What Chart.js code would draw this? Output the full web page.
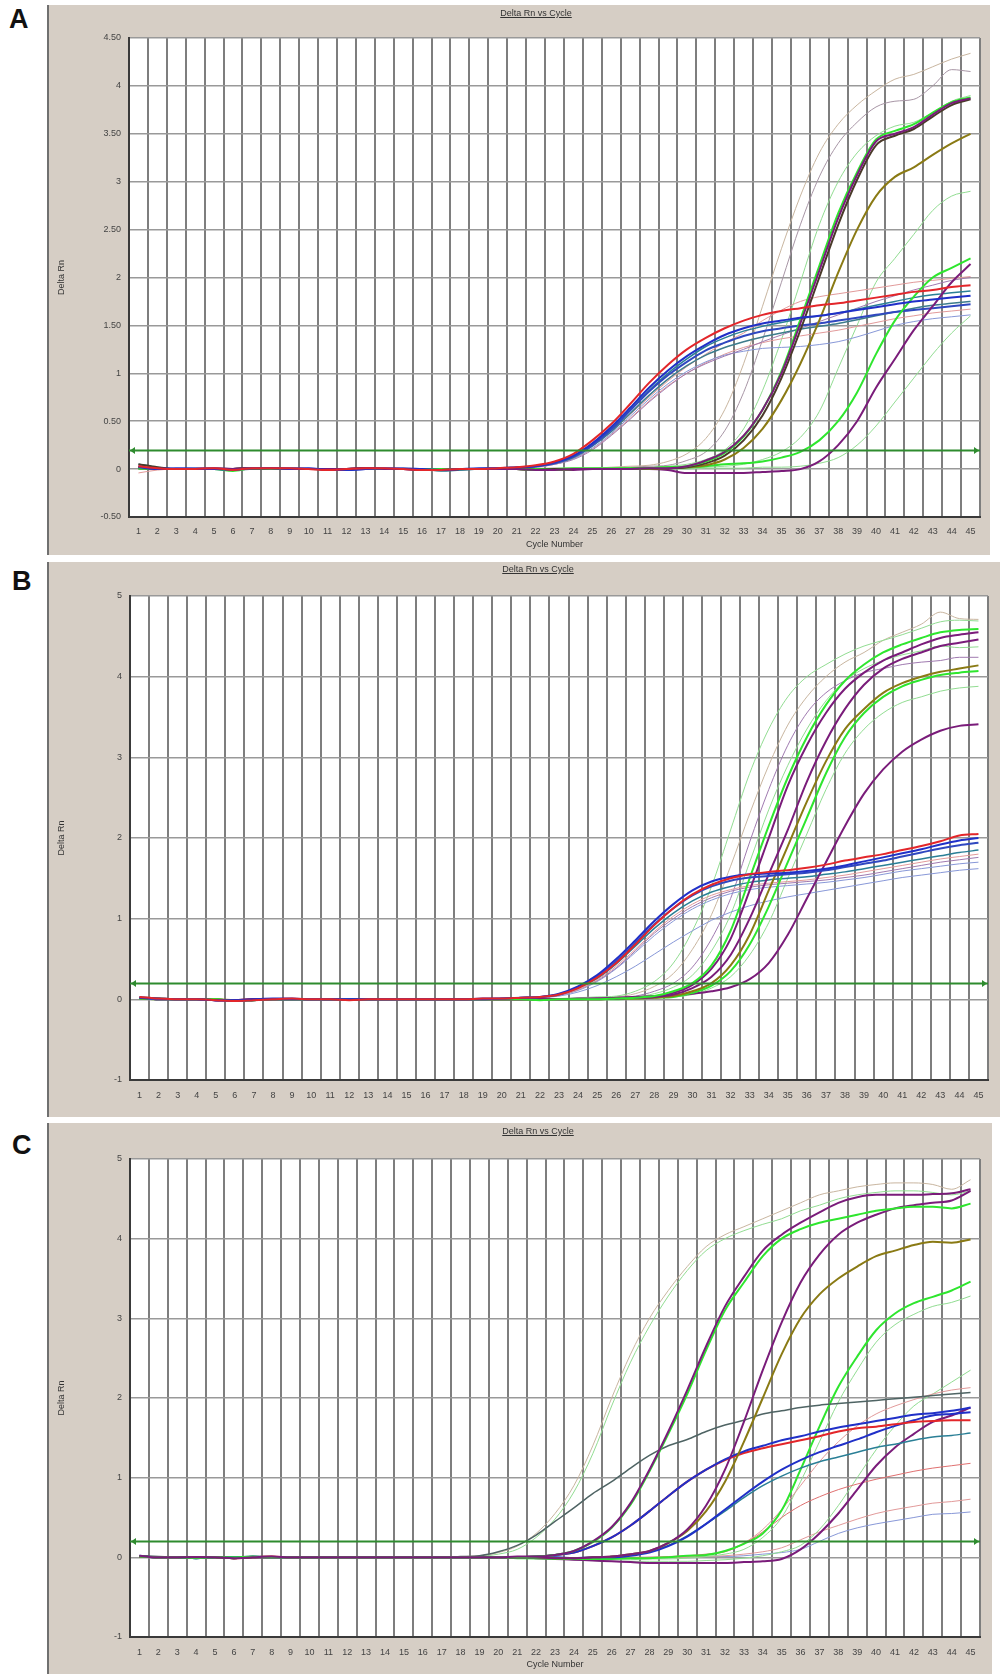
<!DOCTYPE html>
<html>
<head>
<meta charset="utf-8">
<script src="https://cdn.jsdelivr.net/npm/chart.js@4.4.1/dist/chart.umd.min.js"></script>
<style>
  body { margin: 0; background: #fff; width: 1002px; height: 1674px; position: relative; overflow: hidden; font-family: Arial, "Liberation Sans", sans-serif; }
  .frame { position: absolute; background: #d6cec5; border-left: 2px solid #707070; }
  .frame canvas { position: absolute; left: 0; top: 0; }
  .letter { position: absolute; font: bold 27px Arial, "Liberation Sans", sans-serif; line-height: 27px; color: #111; }
  .ttl { position: absolute; font: 9px Arial, "Liberation Sans", sans-serif; line-height: 10px; color: #333; text-decoration: underline; white-space: nowrap; transform: translateX(-50%); }
</style>
</head>
<body>

<div class="letter" style="left:9px;top:6px">A</div>
<div class="letter" style="left:12px;top:568px">B</div>
<div class="letter" style="left:12px;top:1132px">C</div>

<div class="frame" style="left:47px;top:5px;width:941px;height:550px"><canvas id="chartA" width="941" height="550"></canvas></div>
<div class="frame" style="left:47px;top:562px;width:951px;height:555px"><canvas id="chartB" width="951" height="555"></canvas></div>
<div class="frame" style="left:47px;top:1123px;width:943px;height:551px"><canvas id="chartC" width="943" height="551"></canvas></div>

<div class="ttl" style="left:536px;top:8px">Delta Rn vs Cycle</div>
<div class="ttl" style="left:538px;top:564px">Delta Rn vs Cycle</div>
<div class="ttl" style="left:538px;top:1126px">Delta Rn vs Cycle</div>

<script>
/* categories + axis ticks */
const cycles = ['1','2','3','4','5','6','7','8','9','10','11','12','13','14','15','16','17','18','19','20','21','22','23','24','25','26','27','28','29','30','31','32','33','34','35','36','37','38','39','40','41','42','43','44','45'];
const yTicksA = [-0.5, 0, 0.5, 1, 1.5, 2, 2.5, 3, 3.5, 4, 4.5];
const yTickLabelsA = ['-0.50', '0', '0.50', '1', '1.50', '2', '2.50', '3', '3.50', '4', '4.50'];
const yTicksBC = [-1, 0, 1, 2, 3, 4, 5];
const yTickLabelsBC = ['-1', '0', '1', '2', '3', '4', '5'];
const threshold = 0.2;

/* Panel A */
const aRed = [0.03,0.01,0,0,0.01,-0.01,0.01,0.01,0.01,0,-0.01,0,0.01,0.01,0,
  -0.01,-0.01,0,0,0.01,0.02,0.04,0.08,0.16,0.3,0.47,0.68,0.9,1.09,1.25,
  1.37,1.47,1.55,1.61,1.65,1.68,1.71,1.73,1.76,1.79,1.82,1.85,1.87,1.9,1.92];
const aBlue = [0.02,0,0.01,0,0,-0.01,0.01,0.01,0,0.01,-0.01,-0.01,0,0.01,0,
  0,-0.01,0,0.01,0.01,0.02,0.03,0.07,0.14,0.27,0.44,0.64,0.85,1.03,1.18,
  1.3,1.4,1.47,1.52,1.55,1.58,1.6,1.63,1.66,1.69,1.72,1.75,1.77,1.79,1.81];
const aBlue2 = [0.01,0,0,0.01,0,0,0.01,0,0.01,0,0,-0.01,0,0,0.01,
  0,-0.01,0,0,0.01,0.01,0.03,0.06,0.13,0.25,0.41,0.61,0.81,0.98,1.12,
  1.24,1.32,1.39,1.44,1.47,1.5,1.52,1.55,1.58,1.61,1.64,1.66,1.68,1.7,1.72];
const aTeal = [0.05,0.02,0,0,0.01,0,0.01,0.01,0,0,-0.01,0,0.01,0,0,
  0,-0.02,-0.01,0,0.01,0.02,0.03,0.06,0.13,0.26,0.42,0.62,0.82,1,1.15,
  1.28,1.37,1.44,1.49,1.53,1.57,1.6,1.63,1.67,1.71,1.75,1.79,1.82,1.84,1.86];
const aTeal2 = [0.02,0.01,0,0,0,-0.01,0,0.01,0.01,0,0,0,0,0.01,0,
  -0.01,-0.01,-0.01,0,0,0.01,0.03,0.06,0.12,0.24,0.39,0.58,0.77,0.94,1.08,
  1.19,1.27,1.33,1.38,1.42,1.46,1.49,1.52,1.56,1.6,1.64,1.68,1.71,1.73,1.75];
const aPink = [-0.04,-0.01,0,0,0,-0.01,0,0.01,0,0,0,0,0,0,0,
  -0.01,-0.02,-0.01,0,0,0.01,0.03,0.06,0.12,0.24,0.39,0.57,0.75,0.92,1.07,
  1.2,1.32,1.42,1.55,1.66,1.75,1.8,1.83,1.86,1.89,1.92,1.95,1.97,1.99,2.01];
const aMauve = [0.01,0,0,0,0.01,0,0,0,0.01,0,0,0,0,0,0,
  0,-0.01,0,0,0,0.01,0.02,0.05,0.1,0.2,0.35,0.52,0.7,0.86,1,
  1.1,1.18,1.25,1.33,1.4,1.47,1.54,1.61,1.68,1.75,1.81,1.87,1.92,1.97,2];
const aLtBlue = [0.02,0,0,0,0,-0.01,0,0,0,0.01,0,-0.01,0,0,0,
  0,-0.01,0,0,0,0.01,0.02,0.05,0.11,0.22,0.37,0.55,0.73,0.89,1.02,
  1.12,1.19,1.23,1.26,1.27,1.28,1.3,1.33,1.38,1.44,1.5,1.54,1.57,1.59,1.61];
const aPink2 = [0.01,0.01,0,0,0,0,0.01,0,0,0,-0.01,0,0,0,0,
  0,-0.01,-0.01,0,0,0.01,0.02,0.05,0.11,0.21,0.36,0.53,0.71,0.87,1,
  1.11,1.2,1.27,1.32,1.36,1.39,1.42,1.45,1.49,1.53,1.57,1.6,1.63,1.65,1.67];
const aTan = [0.02,0,0,0,0,-0.01,0,0.01,0,0,0,0,0,0,0,
  0,-0.01,0,0,0,0,0.01,0.01,0.01,0.01,0.02,0.03,0.04,0.08,0.16,
  0.32,0.62,1.1,1.7,2.3,2.85,3.3,3.6,3.8,3.95,4.07,4.12,4.2,4.28,4.34];
const aMauveHi = [0.01,0,0,0,0,0,0,0,0.01,0,0,0,0,0,0,
  -0.01,-0.01,0,0,0,0,0,0.01,0,0.01,0.01,0.02,0.03,0.04,0.09,
  0.18,0.4,0.8,1.35,1.95,2.55,3.05,3.4,3.62,3.78,3.84,3.86,4,4.17,4.15];
const aLtGreen1 = [0.01,0,0,0,0,-0.01,0.01,0,0,0,0,0,0,0,0,
  0,-0.01,0,0,0,0,0,0,0,0,0.01,0.01,0.02,0.03,0.05,
  0.1,0.2,0.42,0.82,1.35,1.95,2.55,3,3.3,3.48,3.58,3.62,3.72,3.84,3.9];
const aPurple = [0.03,0,0,0,0.01,0,0.01,0.01,0,0,0,0,0.01,0,0,
  -0.01,-0.01,0,0,0,0,-0.01,-0.01,0,0,0,0,0.01,0.01,0.03,
  0.09,0.18,0.35,0.62,1,1.52,2.07,2.62,3.07,3.42,3.5,3.57,3.7,3.82,3.87];
const aGreen = [0.01,0,0,0,0,-0.02,0.01,0,0,0,0,0,0,0,0,
  0,0,0,0,0,0,-0.01,-0.01,0,0,0,0.01,0.01,0.02,0.03,
  0.08,0.17,0.34,0.62,1.02,1.56,2.12,2.67,3.1,3.44,3.53,3.6,3.72,3.83,3.88];
const aBrown = [0.05,0.02,0,0,0,0,0.01,0,0,0,0,0,0.01,0,0,
  0,-0.01,0,0,0,0,-0.01,0,0,0,0,0,0.01,0.01,0.02,
  0.06,0.14,0.3,0.56,0.95,1.45,2,2.55,3.02,3.38,3.48,3.55,3.68,3.8,3.86];
const aOlive = [0.01,0,0,0,0,0,0.01,0,0,0,0,0,0,0,0,
  0,-0.01,0,0,0,0,-0.01,-0.01,0,0,0,0,0,0.01,0.02,
  0.04,0.1,0.22,0.42,0.72,1.1,1.55,2.05,2.5,2.85,3.05,3.15,3.28,3.4,3.5];
const aLtGreen2 = [0,0,0,0,0,-0.01,0,0,0,0,0,0,0,0,0,
  0,0,0,0,0,0,0,0,0,0,0,0,0,0.01,0.01,
  0.02,0.03,0.05,0.1,0.18,0.33,0.6,1.05,1.5,1.95,2.2,2.45,2.7,2.85,2.9];
const aGreenLate = [0.01,0,0,0,0,-0.01,0.01,0,0,0,0,0,0,0,0,
  0,0,0,0,0,0,0,0,0.01,0.01,0.01,0.01,0.01,0.02,0.02,
  0.03,0.05,0.06,0.08,0.12,0.18,0.3,0.5,0.8,1.2,1.55,1.8,2,2.1,2.2];
const aPurpleLate = [0.02,0,0,0,0,0,0.01,0,0,0,0,0,0.01,0,0,
  -0.01,-0.01,0,0,0,0,-0.01,-0.01,-0.01,0,0,0,0,-0.01,-0.04,
  -0.04,-0.04,-0.04,-0.03,-0.02,0,0.08,0.25,0.5,0.85,1.15,1.45,1.7,1.95,2.14];
const aLtGreen3 = [0,0,0,0,0,-0.01,0,0,0,0,0,0,0,0,0,
  0,0,0,0,0,0,0,0,0,0,0,0,0,0,0,
  0.01,0.01,0.01,0.02,0.02,0.03,0.06,0.12,0.25,0.45,0.7,0.95,1.2,1.42,1.6];

/* Panel B */
const bRed = [0.03,0.01,0,0,-0.01,-0.02,-0.01,0,0.01,0,0,-0.01,0,0,0,
  0,0,0,0.01,0.01,0.02,0.03,0.06,0.14,0.27,0.45,0.68,0.92,1.13,1.3,
  1.42,1.5,1.55,1.58,1.6,1.63,1.67,1.72,1.76,1.8,1.85,1.9,1.96,2.03,2.05];
const bBlue = [0.02,0.01,0,0,-0.01,-0.01,0,0.01,0.01,0,0,0,0,0,0,
  0,0,0,0.01,0.01,0.02,0.03,0.07,0.16,0.3,0.5,0.73,0.97,1.18,1.35,
  1.46,1.52,1.55,1.56,1.57,1.59,1.62,1.66,1.71,1.76,1.81,1.86,1.92,1.97,2];
const bBlue2 = [0.02,0,0,0,-0.01,-0.02,-0.01,0,0,0,0,0,0,0,0,
  0,0,0,0,0.01,0.02,0.03,0.06,0.15,0.28,0.47,0.7,0.93,1.13,1.29,
  1.4,1.47,1.51,1.53,1.55,1.57,1.6,1.64,1.68,1.72,1.77,1.82,1.87,1.91,1.94];
const bTeal = [0.03,0.01,0,0,0,-0.01,-0.01,0,0,0,0,-0.01,0,0,0,
  0,0,0,0,0.01,0.02,0.03,0.06,0.14,0.26,0.44,0.66,0.88,1.07,1.22,
  1.33,1.4,1.45,1.48,1.5,1.52,1.55,1.58,1.62,1.66,1.7,1.74,1.78,1.82,1.85];
const bPink = [0.02,0,0,0,0,-0.01,0,0,0,0,0,0,0,0,0,
  0,0,0,0,0.01,0.01,0.02,0.05,0.12,0.24,0.41,0.62,0.84,1.03,1.18,
  1.29,1.36,1.41,1.44,1.46,1.48,1.51,1.54,1.58,1.62,1.66,1.7,1.74,1.77,1.8];
const bPurpleThin = [0.01,0,0,0,-0.01,-0.01,0,0,0,0,0,0,0,0,0,
  0,0,0,0,0.01,0.01,0.02,0.05,0.12,0.23,0.39,0.6,0.82,1,1.15,
  1.26,1.34,1.39,1.42,1.44,1.46,1.48,1.51,1.54,1.58,1.62,1.66,1.7,1.73,1.76];
const bGrayBlue = [0.02,0,0,0,0,-0.01,0,0,0.01,0,0,0,0,0,0,
  0,0,0,0,0,0.01,0.02,0.05,0.11,0.22,0.38,0.58,0.79,0.97,1.12,
  1.23,1.31,1.36,1.39,1.41,1.43,1.45,1.48,1.51,1.55,1.59,1.62,1.65,1.68,1.7];
const bLtBlue = [0.01,0,0,0,0,-0.01,0,0,0,0,0,0,0,0,0,
  0,0,0,0,0,0.01,0.02,0.04,0.09,0.17,0.28,0.41,0.56,0.71,0.85,
  0.98,1.08,1.16,1.22,1.27,1.31,1.35,1.39,1.43,1.47,1.51,1.54,1.57,1.6,1.62];
const bLtGreen1 = [0.02,0,0,0,-0.01,-0.01,0,0,0,0,0,0,0,0,0,
  0,0,0,0,0,0.01,0.01,0.01,0.02,0.03,0.04,0.1,0.22,0.45,0.85,
  1.4,2.1,2.8,3.35,3.75,4,4.15,4.28,4.38,4.45,4.52,4.6,4.68,4.7,4.69];
const bTan = [0.01,0,0,0,0,-0.01,0,0,0,0,0,0,0,0,0,
  0,0,0,0,0,0,0.01,0.01,0.01,0.02,0.03,0.07,0.16,0.32,0.62,
  1.05,1.65,2.3,2.9,3.4,3.75,4,4.18,4.3,4.45,4.55,4.65,4.8,4.72,4.71];
const bLtPurple = [0.01,0,0,0,-0.01,-0.01,0,0,0,0,0,0,0,0,0,
  0,0,0,0,0,0,0,0.01,0.01,0.01,0.02,0.04,0.1,0.2,0.4,
  0.75,1.25,1.95,2.6,3.15,3.55,3.8,3.95,4.05,4.1,4.15,4.18,4.2,4.24,4.24];
const bLtGreen2 = [0.02,0,0,0,0,-0.01,0,0,0,0,0,0,0,0,0,
  0,0,0,0,0,0,0,0,0.01,0.01,0.02,0.03,0.07,0.15,0.3,
  0.6,1.05,1.7,2.35,2.9,3.35,3.7,3.95,4.1,4.2,4.27,4.32,4.38,4.36,4.37];
const bGreen1 = [0.01,0.01,0,0,0,-0.02,-0.01,0,0,0,0,0,0,0,0,
  0,0,0,0,0,0,-0.01,0,0,0,0.01,0.02,0.04,0.1,0.2,
  0.42,0.85,1.5,2.15,2.75,3.25,3.65,3.95,4.15,4.3,4.4,4.48,4.55,4.58,4.59];
const bPurple1 = [0.02,0,0,0,-0.01,-0.01,0,0,0,0,0,0,0,0,0,
  0,0,0,0,0,0,0,0,0,0.01,0.01,0.02,0.03,0.08,0.18,
  0.38,0.75,1.35,2,2.65,3.15,3.55,3.85,4.05,4.2,4.3,4.4,4.48,4.52,4.55];
const bPurple2 = [0.02,0.01,0,0,-0.01,-0.01,0,0,0,0,0,0,0,0,0,
  0,0,0,0,0,0,0,0,0,0,0.01,0.02,0.03,0.06,0.14,
  0.28,0.55,1,1.55,2.1,2.7,3.2,3.6,3.9,4.1,4.22,4.3,4.38,4.42,4.46];
const bOlive = [0.01,0,0,0,0,-0.01,0,0,0,0,0,0,0,0,0,
  0,0,0,0,0,0,0,0,0,0,0.01,0.01,0.02,0.04,0.1,
  0.2,0.42,0.8,1.35,1.9,2.45,2.95,3.35,3.6,3.8,3.92,4,4.06,4.1,4.14];
const bGreen2 = [0.01,0,0,0,0,-0.02,-0.01,0,0,0,0,0,0,0,0,
  0,0,0,0,0,0,0,0,0,0,0,0.01,0.02,0.03,0.08,
  0.17,0.35,0.68,1.15,1.7,2.25,2.8,3.25,3.55,3.75,3.88,3.96,4.02,4.05,4.07];
const bLtGreen3 = [0.01,0,0,0,0,-0.01,0,0,0,0,0,0,0,0,0,
  0,0,0,0,0,0,0,0,0,0,0,0.01,0.02,0.03,0.06,
  0.14,0.28,0.55,0.95,1.5,2.05,2.6,3.05,3.35,3.55,3.68,3.75,3.82,3.86,3.88];
const bPurple3 = [0.02,0,0,0,-0.01,-0.01,0,0,0,0,0,0,0,0,0,
  0,0,0,0,0,0,0,0,0.01,0.01,0.02,0.03,0.04,0.05,0.07,
  0.1,0.15,0.25,0.45,0.8,1.25,1.7,2.15,2.55,2.85,3.07,3.22,3.33,3.39,3.41];

/* Panel C */
const cTan = [0.02,0,0,-0.01,0,0,0.01,0.01,0,0,0,0,0,0,0,
  0,0,0.01,0.02,0.06,0.14,0.3,0.55,0.9,1.4,2,2.55,3,3.35,3.65,
  3.9,4.05,4.15,4.25,4.35,4.45,4.55,4.6,4.65,4.68,4.7,4.7,4.68,4.62,4.74];
const cLtGreen = [0.01,0,0,-0.01,0,0,0.01,0,0,0,0,0,0,0,0,
  0,0,0,0.01,0.04,0.1,0.25,0.48,0.82,1.3,1.9,2.45,2.9,3.28,3.6,
  3.85,4,4.1,4.18,4.25,4.35,4.42,4.5,4.55,4.58,4.6,4.6,4.58,4.55,4.6];
const cSlate = [0.02,0.01,0,-0.01,0,0,0.01,0.01,0,0,0,0,0,0,0,
  0,0,0.01,0.02,0.07,0.15,0.28,0.45,0.62,0.8,0.95,1.12,1.28,1.4,1.48,
  1.58,1.66,1.72,1.8,1.84,1.88,1.91,1.93,1.95,1.97,1.99,2.01,2.03,2.05,2.07];
const cPinkHi = [0.01,0,0,0,0,-0.01,0,0,0,0,0,0,0,0,0,
  0,0,0,0,0,0,0,-0.01,-0.01,-0.01,-0.01,-0.01,0,0,0.01,
  0.03,0.08,0.18,0.35,0.6,0.9,1.2,1.45,1.65,1.8,1.9,1.98,2.05,2.1,2.13];
const cPurple1 = [0.02,0,0,0,0,-0.01,0,0.01,0,0,0,0,0,0,0,
  0,0,0,0,0,0.01,0.01,0.03,0.08,0.2,0.38,0.68,1.1,1.58,2.1,
  2.65,3.15,3.52,3.85,4.05,4.2,4.33,4.45,4.52,4.55,4.55,4.55,4.56,4.57,4.62];
const cGreen1 = [0.01,0,0,-0.01,0,0,0.01,0,0,0,0,0,0,0,0,
  0,0,0,0,0,0,0.01,0.03,0.08,0.19,0.37,0.66,1.08,1.55,2.05,
  2.6,3.1,3.45,3.78,4,4.12,4.2,4.25,4.3,4.35,4.38,4.4,4.4,4.38,4.44];
const cPurple2 = [0.01,0,0,0,0,-0.01,0,0,0,0,0,0,0,0,0,
  0,0,0,0,0,0,0,-0.01,-0.01,0,0.01,0.04,0.08,0.18,0.35,
  0.65,1.1,1.7,2.35,2.95,3.45,3.8,4.05,4.2,4.3,4.38,4.42,4.45,4.48,4.6];
const cOlive = [0.01,0,0,0,0,-0.01,0,0,0,0,0,0,0,0,0,
  0,0,0,0,0,0,0,-0.01,-0.01,0,0.01,0.04,0.08,0.18,0.33,
  0.58,0.95,1.45,2,2.55,3,3.3,3.5,3.65,3.78,3.85,3.92,3.96,3.95,3.99];
const cBlue1 = [0.02,0,0,-0.01,0,0,0.01,0,0,0,0,0,0,0,0,
  0,0,0,0,0,0,0.01,0.03,0.06,0.14,0.25,0.4,0.58,0.77,0.95,
  1.1,1.23,1.33,1.4,1.47,1.52,1.58,1.63,1.67,1.71,1.75,1.79,1.81,1.84,1.88];
const cRed1 = [0.01,0,0,0,0,-0.01,0,0.01,0,0,0,0,0,0,0,
  0,0,0,0,0,0,0.01,0.03,0.06,0.14,0.25,0.4,0.58,0.77,0.95,
  1.1,1.22,1.31,1.37,1.42,1.47,1.52,1.58,1.62,1.64,1.67,1.7,1.71,1.72,1.72];
const cBlue2 = [0.01,0,0,-0.01,0,0,0,0,0,0,0,0,0,0,0,
  0,0,0,0,0,0,0,0,-0.01,0,0,0.02,0.06,0.14,0.26,
  0.42,0.6,0.78,0.95,1.1,1.22,1.32,1.4,1.48,1.57,1.65,1.72,1.78,1.8,1.82];
const cTeal2 = [0.01,0,0,0,0,-0.01,0,0,0,0,0,0,0,0,0,
  0,0,0,0,0,0,0,0,-0.01,0,0.01,0.03,0.07,0.15,0.27,
  0.42,0.58,0.75,0.9,1.02,1.12,1.2,1.26,1.32,1.38,1.42,1.47,1.51,1.53,1.56];
const cGreen2 = [0.01,0,0,0,0,-0.01,0,0,0,0,0,0,0,0,0,
  0,0,0,0,0,-0.01,-0.01,-0.02,-0.02,-0.02,-0.02,-0.01,-0.01,0,0.02,
  0.03,0.08,0.17,0.3,0.59,1.1,1.64,2.14,2.52,2.85,3.06,3.19,3.27,3.35,3.46];
const cLtGreen2 = [0,0,0,0,0,-0.01,0,0,0,0,0,0,0,0,0,
  0,0,0,0,0,-0.01,-0.02,-0.02,-0.03,-0.03,-0.03,-0.03,-0.02,-0.02,-0.01,
  0.01,0.04,0.1,0.25,0.5,0.95,1.45,1.95,2.35,2.7,2.92,3.05,3.15,3.2,3.28];
const cRed2 = [0.01,0,0,0,0,-0.01,0,0,0,0,0,0,0,0,0,
  0,0,0,0,0,0,0,-0.01,-0.01,-0.01,0,0,0,0.01,0.02,
  0.04,0.07,0.17,0.32,0.5,0.65,0.76,0.85,0.92,0.98,1.03,1.08,1.12,1.15,1.18];
const cPurpleLate = [0.01,0,0,0,0,-0.01,0,0,0,0,0,0,0,0,0,
  0,0,0,0,0,0,-0.01,-0.02,-0.03,-0.04,-0.05,-0.06,-0.07,-0.07,-0.07,
  -0.07,-0.07,-0.06,-0.05,-0.02,0.1,0.3,0.55,0.85,1.15,1.38,1.55,1.7,1.78,1.88];
const cLtGreen3 = [0,0,0,0,0,-0.01,0,0,0,0,0,0,0,0,0,
  0,0,0,0,0,0,-0.01,-0.02,-0.03,-0.04,-0.05,-0.05,-0.05,-0.05,-0.05,
  -0.04,-0.03,-0.01,0.02,0.07,0.15,0.35,0.65,1,1.35,1.65,1.9,2.05,2.2,2.35];
const cPink2 = [0.01,0,0,0,0,-0.01,0,0,0,0,0,0,0,0,0,
  0,0,0,0,0,0,0,-0.01,-0.01,-0.01,-0.01,-0.01,0,0,0,
  0.01,0.02,0.04,0.07,0.12,0.22,0.32,0.4,0.48,0.55,0.6,0.64,0.68,0.7,0.73];
const cLtBlue = [0.01,0,0,0,0,-0.01,0,0,0,0,0,0,0,0,0,
  0,0,0,0,0,0,0,-0.01,-0.01,-0.01,-0.01,0,0,0,0,
  0.01,0.01,0.02,0.04,0.06,0.1,0.2,0.3,0.37,0.42,0.46,0.5,0.54,0.55,0.57];

/* colours */
const RED = '#e3262a', BLUE = '#2030c8', BLUE2 = '#3048c0', TEAL = '#2a7f96', TEAL2 = '#3d7c8c';
const PINK = '#e29a9a', MAUVE = '#a07ab0', LTBLUE = '#8898d8', TAN = '#c9b6a0', MAUVEHI = '#a896a6';
const LTGREEN = '#92dd92', PURPLE = '#7a1c7a', GREEN = '#2ee62e', BROWN = '#4a3a2a', OLIVE = '#8a7a14', SLATE = '#4f6464';
const FONT = 'Arial, "Liberation Sans", sans-serif';

// first in list = drawn on top
const seriesA = [
  [aRed, RED, 2], [aBlue, BLUE, 2], [aPurple, PURPLE, 2], [aGreen, GREEN, 2], [aBrown, BROWN, 2],
  [aOlive, OLIVE, 2], [aGreenLate, GREEN, 2], [aPurpleLate, PURPLE, 2], [aBlue2, BLUE2, 2],
  [aTeal, TEAL, 1.5], [aTeal2, TEAL2, 1.5], [aPink, PINK, 1], [aMauve, MAUVE, 1], [aLtBlue, LTBLUE, 1],
  [aPink2, PINK, 1], [aTan, TAN, 1], [aMauveHi, MAUVEHI, 1], [aLtGreen1, LTGREEN, 1],
  [aLtGreen2, LTGREEN, 1], [aLtGreen3, LTGREEN, 1]
];
const seriesB = [
  [bRed, RED, 2], [bBlue, BLUE, 2], [bBlue2, BLUE2, 2], [bGreen1, GREEN, 2], [bPurple1, PURPLE, 2],
  [bPurple2, PURPLE, 2], [bOlive, OLIVE, 2], [bGreen2, GREEN, 2], [bPurple3, PURPLE, 2],
  [bTeal, TEAL, 1.5], [bPink, PINK, 1], [bPurpleThin, MAUVE, 1], [bGrayBlue, LTBLUE, 1], [bLtBlue, LTBLUE, 1],
  [bLtGreen1, LTGREEN, 1], [bTan, TAN, 1], [bLtPurple, MAUVE, 1], [bLtGreen2, LTGREEN, 1], [bLtGreen3, LTGREEN, 1]
];
const seriesC = [
  [cPurple1, PURPLE, 2], [cGreen1, GREEN, 2], [cPurple2, PURPLE, 2], [cOlive, OLIVE, 2],
  [cBlue1, BLUE, 2], [cRed1, RED, 2], [cBlue2, BLUE, 2], [cTeal2, TEAL, 1.5], [cSlate, SLATE, 1.5],
  [cGreen2, GREEN, 2], [cPurpleLate, PURPLE, 2], [cRed2, '#e07070', 1], [cPinkHi, PINK, 1],
  [cTan, TAN, 1], [cLtGreen, LTGREEN, 1], [cLtGreen2, LTGREEN, 1], [cLtGreen3, LTGREEN, 1],
  [cPink2, PINK, 1], [cLtBlue, LTBLUE, 1]
];

const plotBg = {
  id: 'plotBg',
  beforeDraw(chart) {
    const { ctx, chartArea: a } = chart;
    ctx.save();
    ctx.fillStyle = '#fff';
    ctx.fillRect(a.left, a.top, a.right - a.left, a.bottom - a.top);
    ctx.restore();
  }
};

const thresholdLine = {
  id: 'thresholdLine',
  afterDatasetsDraw(chart, args, opts) {
    const { ctx, chartArea: a, scales: { y } } = chart;
    const py = Math.round(y.getPixelForValue(opts.value)) + 0.5;
    ctx.save();
    ctx.strokeStyle = opts.color;
    ctx.fillStyle = opts.color;
    ctx.lineWidth = 2;
    ctx.beginPath();
    ctx.moveTo(a.left, py);
    ctx.lineTo(a.right, py);
    ctx.stroke();
    // little arrow heads at both ends
    ctx.beginPath();
    ctx.moveTo(a.left + 1, py); ctx.lineTo(a.left + 6, py - 3.5); ctx.lineTo(a.left + 6, py + 3.5);
    ctx.fill();
    ctx.beginPath();
    ctx.moveTo(a.right - 1, py); ctx.lineTo(a.right - 6, py - 3.5); ctx.lineTo(a.right - 6, py + 3.5);
    ctx.fill();
    ctx.restore();
  }
};

function makePanel(id, series, o) {
  new Chart(document.getElementById(id), {
    type: 'line',
    data: {
      labels: cycles,
      datasets: series.map(s => ({
        data: s[0],
        borderColor: s[1],
        borderWidth: s[2],
        pointRadius: 0,
        fill: false,
        cubicInterpolationMode: 'monotone'
      }))
    },
    options: {
      responsive: false,
      animation: false,
      devicePixelRatio: 1,
      layout: { padding: { left: 0, top: o.top, right: o.right, bottom: 0 } },
      plugins: {
        legend: { display: false },
        tooltip: { enabled: false },
        thresholdLine: { value: threshold, color: '#2e8b2e' }
      },
      scales: {
        x: {
          offset: true,
          afterFit: s => { s.height = o.xh; },
          ticks: { padding: o.xPad, color: '#444', font: { size: 9, family: FONT }, autoSkip: false, maxRotation: 0 },
          grid: { offset: true, color: '#7e7e7e', lineWidth: 2, drawTicks: false },
          border: { color: '#3a3a3a', width: 2 },
          title: { display: o.xTitle, text: 'Cycle Number', color: '#333', font: { size: 9, family: FONT }, padding: { top: 0, bottom: o.xTitlePad } }
        },
        y: {
          min: o.ticks[0],
          max: o.ticks[o.ticks.length - 1],
          afterFit: s => { s.width = o.yw; },
          afterBuildTicks: s => { s.ticks = o.ticks.map(v => ({ value: v })); },
          ticks: { padding: 8, color: '#444', font: { size: 9, family: FONT }, callback: (v, i) => o.labels[i] },
          grid: { color: '#999999', lineWidth: 1.5, drawTicks: false },
          border: { color: '#3a3a3a', width: 2 },
          title: { display: true, text: 'Delta Rn', color: '#333', font: { size: 9, family: FONT }, padding: { top: 7, bottom: 0 } }
        }
      }
    },
    plugins: [plotBg, thresholdLine]
  });
}

makePanel('chartA', seriesA, { top: 33, right: 10, xh: 38, yw: 80, xPad: 9, xTitle: true, xTitlePad: 5, ticks: yTicksA, labels: yTickLabelsA });
makePanel('chartB', seriesB, { top: 34, right: 12, xh: 37, yw: 81, xPad: 10, xTitle: false, xTitlePad: 0, ticks: yTicksBC, labels: yTickLabelsBC });
makePanel('chartC', seriesC, { top: 36, right: 12, xh: 37, yw: 81, xPad: 10, xTitle: true, xTitlePad: 4, ticks: yTicksBC, labels: yTickLabelsBC });
</script>
</body>
</html>
